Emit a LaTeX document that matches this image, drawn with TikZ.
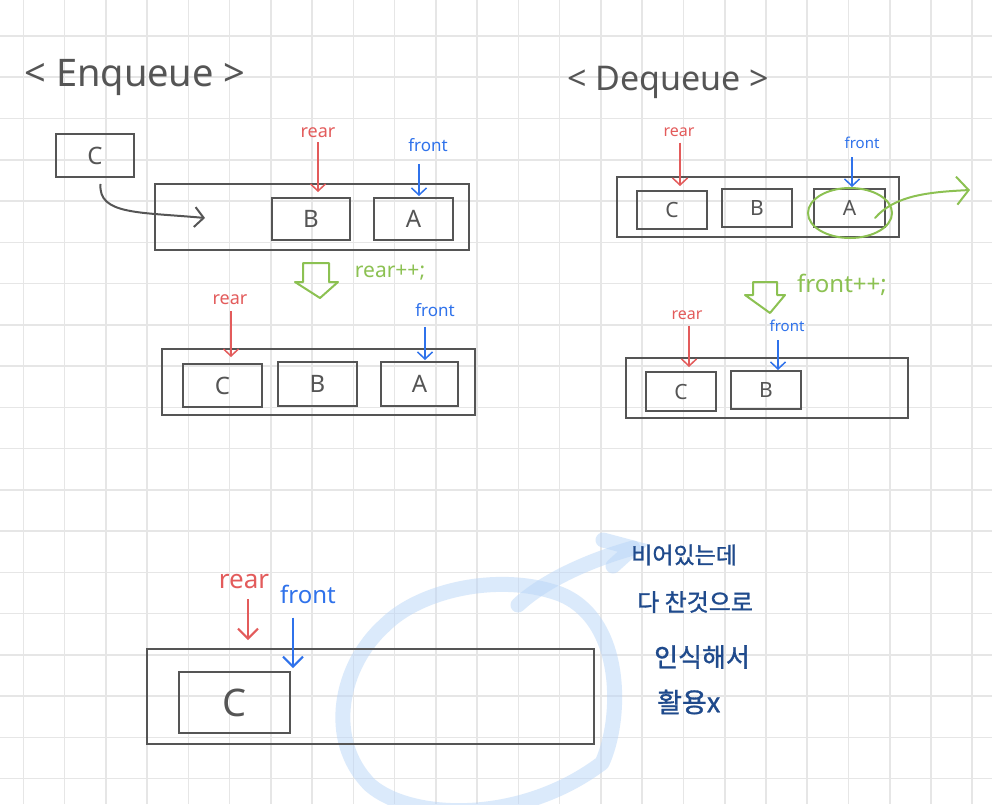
\documentclass[tikz,border=0pt]{standalone}
\usepackage{fontspec}
\setmainfont{Noto Sans}
\newfontfamily\kr[AutoFakeBold=1.2]{Noto Sans CJK KR}
\usetikzlibrary{arrows.meta,shapes.geometric}
\definecolor{gridc}{HTML}{E6E6E6}
\definecolor{ink}{HTML}{555555}
\definecolor{rearc}{HTML}{E35B5B}
\definecolor{frontc}{HTML}{2F72EB}
\definecolor{greenc}{HTML}{8CC152}
\definecolor{navy}{HTML}{1F4A8C}
\definecolor{lightb}{HTML}{B9D6F8}
\tikzset{
  box/.style={draw=ink, line width=2pt, inner sep=0pt, text=ink},
  fs/.style={font=\fontsize{#1}{#1}\selectfont},
  rlbl/.style={text=rearc, inner sep=0pt},
  flbl/.style={text=frontc, inner sep=0pt},
  rarr/.style={draw=rearc, line width=1.5pt, -{Straight Barb[length=7pt,width=15pt]}, shorten <=4pt},
  farr/.style={draw=frontc, line width=1.5pt, -{Straight Barb[length=7pt,width=15pt]}, shorten <=4pt},
  greenst/.style={draw=greenc, line width=2pt, line join=round, line cap=round},
  ttl/.style={text=ink, inner sep=0pt},
  loopst/.style={draw=lightb, line width=15pt, line cap=round, draw opacity=0.5},
}
\begin{document}
\begin{tikzpicture}[x=1pt,y=-1pt]
\useasboundingbox (0,0) rectangle (992,804);
\clip (0,0) rectangle (992,804);
\fill[white] (0,0) rectangle (992,804);
% grid
\foreach \k in {0,...,23} \draw[gridc, line width=1.6pt] ({23.3+41.26*\k},0) -- ({23.3+41.26*\k},804);
\foreach \k in {0,...,18} \draw[gridc, line width=1.6pt] (0,{36+41.26*\k}) -- (992,{36+41.26*\k});

% ===== Enqueue =====
\node[ttl, fs=38] (tE) at (135,77) {< Enqueue >};
\node[box, fs=24, minimum width=78pt, minimum height=43pt] (eC) at (95,155.5) {C};
\node[box, minimum width=314pt, minimum height=66pt] (eQ1) at (312,217) {};
\node[box, fs=24, minimum width=78pt, minimum height=42pt] (eB1) at (311,219) {B};
\node[box, fs=24, minimum width=79pt, minimum height=42pt] (eA1) at (413.5,219) {A};
\node[rlbl, fs=18] (eR1) at (318,133) {rear};
\node[flbl, fs=17] (eF1) at (428,145) {front};
\draw[rarr, shorten >=5pt] (eR1.south) -- (eR1.south |- eB1.north);
\draw[farr, shorten >=1pt, shorten <=12pt] ([xshift=-9pt]eF1.south) -- ([xshift=-9pt]eF1.south |- eA1.north);
\coordinate (eIn) at (205,218);
\draw[draw=ink, line width=2pt, -{Straight Barb[length=9pt,width=20pt]}, shorten <=6pt] ([xshift=6pt]eC.south) .. controls (98,215) and (140,212) .. (eIn);
% green hollow arrow
\draw[greenst] (303,263) -- (303,282) -- (295,282) -- (320,298) -- (338,282) -- (329,282) -- (329,263) -- cycle;
\node[text=greenc, inner sep=0pt, fs=21] (eInc) at (390,273) {rear++;};

\node[box, minimum width=313pt, minimum height=66pt] (eQ2) at (318.5,382) {};
\node[box, fs=24, minimum width=79pt, minimum height=43pt] (eC2) at (222.5,385.5) {C};
\node[box, fs=24, minimum width=79pt, minimum height=44pt] (eB2) at (317.5,384) {B};
\node[box, fs=24, minimum width=77pt, minimum height=44pt] (eA2) at (419.5,384) {A};
\node[rlbl, fs=18] (eR2) at (230,300) {rear};
\node[flbl, fs=17] (eF2) at (435,310) {front};
\draw[rarr, shorten >=6pt, shorten <=6pt] ([xshift=1pt]eR2.south) -- ([xshift=1pt]eR2.south |- eC2.north);
\draw[farr, shorten >=1pt, shorten <=10pt] ([xshift=-10pt]eF2.south) -- ([xshift=-10pt]eF2.south |- eA2.north);

% ===== Dequeue =====
\node[ttl, fs=34] (tD) at (668,82) {< Dequeue >};
\node[box, minimum width=282pt, minimum height=60pt] (dQ1) at (758,207) {};
\node[box, fs=21, minimum width=70pt, minimum height=38pt] (dC1) at (672,210) {C};
\node[box, fs=21, minimum width=70pt, minimum height=38pt] (dB1) at (757,208) {B};
\node[box, fs=21, minimum width=71pt, minimum height=38pt] (dA1) at (849.5,208) {A};
\node[rlbl, fs=16] (dR1) at (679,132) {rear};
\node[flbl, fs=15] (dF1) at (862,143) {front};
\draw[rarr, shorten >=4pt, shorten <=6pt] ([xshift=1pt]dR1.south) -- ([xshift=1pt]dR1.south |- dC1.north);
\draw[farr, shorten >=1pt, shorten <=8pt] ([xshift=-10pt]dF1.south) -- ([xshift=-10pt]dF1.south |- dA1.north);
\node[ellipse, draw=greenc, line width=2pt, minimum width=84pt, minimum height=50pt, inner sep=0pt] (gEl) at (850,213) {};
\coordinate (gS) at (875,218);
\coordinate (gE) at (970,190);
\draw[greenst, -{Straight Barb[length=12pt,width=28pt]}] (gS) .. controls (895,195) and (930,192) .. (gE);
\draw[greenst] (753,282) -- (753,295) -- (745,295) -- (770,313) -- (785,295) -- (777,295) -- (777,282) -- cycle;
\node[text=greenc, inner sep=0pt, fs=24] (dInc) at (842,285) {front++;};

\node[box, minimum width=282pt, minimum height=60pt] (dQ2) at (767,388) {};
\node[box, fs=21, minimum width=70pt, minimum height=39pt] (dC2) at (681,391.5) {C};
\node[box, fs=21, minimum width=70pt, minimum height=38pt] (dB2) at (766,390) {B};
\node[rlbl, fs=16] (dR2) at (687,315) {rear};
\node[flbl, fs=15] (dF2) at (787,326) {front};
\draw[rarr, shorten >=4pt, shorten <=6pt] ([xshift=2pt]dR2.south) -- ([xshift=2pt]dR2.south |- dC2.north);
\draw[farr, shorten >=0pt, shorten <=8pt] ([xshift=-9pt]dF2.south) -- ([xshift=-9pt]dF2.south |- dB2.north);

% ===== bottom =====
\draw[loopst] (602,763) .. controls (622,720) and (625,620) .. (560,594)
  .. controls (500,572) and (420,590) .. (385,625)
  .. controls (340,665) and (325,740) .. (370,785)
  .. controls (410,820) and (520,825) .. (602,763);
\coordinate (bS) at (518,605);
\coordinate (bT) at (633,548);
\draw[loopst] (bS) .. controls (545,580) and (590,560) .. (bT);
\draw[loopst] (603,540) -- (bT) -- (613,566);

\node[box, minimum width=447pt, minimum height=95pt] (bQ) at (370.5,696.5) {};
\node[box, fs=38, minimum width=111pt, minimum height=61pt] (bC) at (234.5,702.5) {C};
\node[rlbl, fs=26] (bR) at (244,582) {rear};
\node[flbl, fs=24] (bF) at (308,594) {front};
\draw[rarr, line width=2pt, shorten >=8pt, shorten <=10pt, -{Straight Barb[length=10pt,width=20pt]}] ([xshift=4pt]bR.south) -- ([xshift=4pt]bR.south |- bQ.north);
\draw[farr, line width=2pt, shorten >=3pt, shorten <=14pt, -{Straight Barb[length=10pt,width=20pt]}] ([xshift=-15pt]bF.south) -- ([xshift=-15pt]bF.south |- bC.north);

\node[text=navy, inner sep=0pt, anchor=west, font=\kr\bfseries\fontsize{23}{23}\selectfont] (k1) at (631,555) {비어있는데};
\node[text=navy, inner sep=0pt, anchor=west, font=\kr\bfseries\fontsize{24}{24}\selectfont] (k2) at (637,602) {다 찬것으로};
\node[text=navy, inner sep=0pt, anchor=west, font=\kr\bfseries\fontsize{26}{26}\selectfont] (k3) at (654,657) {인식해서};
\node[text=navy, inner sep=0pt, anchor=west, font=\kr\bfseries\fontsize{27}{27}\selectfont] (k4) at (657,702) {활용x};
\end{tikzpicture}
\end{document}
